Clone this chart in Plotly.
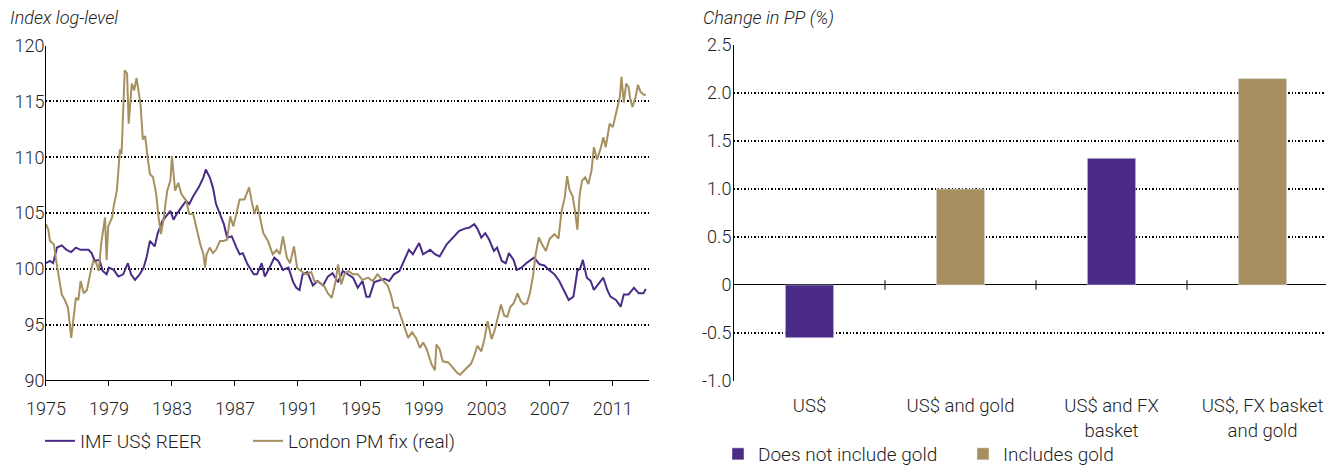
import plotly.graph_objects as go

# Left panel: index log-levels
reer_year = [1975.0, 1975.25, 1975.45, 1975.7, 1976.0, 1976.3, 1976.6, 1976.9, 1977.2, 1977.7,
             1977.9, 1978.1, 1978.4, 1978.6, 1978.85, 1979.0, 1979.3, 1979.6, 1979.9, 1980.2,
             1980.4, 1980.65, 1980.95, 1981.2, 1981.4, 1981.6, 1981.9, 1982.1, 1982.4, 1982.6,
             1982.9, 1983.1, 1983.3, 1983.6, 1983.9, 1984.1, 1984.35, 1984.7, 1985.0, 1985.15,
             1985.4, 1985.6, 1985.8, 1986.05, 1986.3, 1986.5, 1986.8, 1987.1, 1987.3, 1987.5,
             1987.8, 1988.2, 1988.4, 1988.7, 1988.9, 1989.2, 1989.5, 1989.75, 1990.05, 1990.4,
             1990.7, 1990.9, 1991.1, 1991.3, 1991.6, 1991.95, 1992.25, 1992.6, 1992.9, 1993.2,
             1993.55, 1993.85, 1994.2, 1994.5, 1994.8, 1995.1, 1995.35, 1995.55, 1995.85, 1996.2,
             1996.5, 1996.8, 1997.1, 1997.45, 1997.75, 1998.05, 1998.3, 1998.7, 1998.95, 1999.4,
             1999.7, 2000.0, 2000.45, 2000.85, 2001.25, 2001.6, 2001.9, 2002.2, 2002.4, 2002.65,
             2002.9, 2003.15, 2003.45, 2003.65, 2003.95, 2004.2, 2004.4, 2004.7, 2004.9, 2005.2,
             2005.5, 2005.8, 2006.0, 2006.35, 2006.65, 2006.95, 2007.3, 2007.6, 2007.9, 2008.2,
             2008.5, 2008.75, 2008.95, 2009.1, 2009.35, 2009.6, 2009.8, 2010.1, 2010.4, 2010.65,
             2010.85, 2011.2, 2011.5, 2011.7, 2012.0, 2012.35, 2012.65, 2012.95, 2013.1]
reer_val = [100.5, 100.7, 100.5, 101.9, 102.1, 101.7, 101.5, 101.9, 101.7, 101.7,
            101.4, 100.7, 100.8, 99.8, 99.5, 100.1, 99.9, 99.3, 99.5, 100.5,
            99.5, 99.0, 99.5, 100.1, 101.1, 102.5, 102.0, 103.2, 104.3, 104.7,
            105.2, 104.4, 104.9, 105.5, 106.1, 105.8, 106.5, 107.3, 108.2, 108.9,
            108.2, 107.3, 105.8, 104.9, 104.0, 102.8, 102.9, 101.9, 101.3, 101.4,
            100.4, 99.5, 99.5, 100.5, 99.3, 100.1, 101.0, 100.7, 99.9, 100.1,
            98.8, 98.3, 98.1, 99.5, 99.7, 98.5, 98.9, 98.5, 99.3, 99.6,
            98.8, 99.8, 99.5, 99.2, 98.3, 98.9, 97.5, 97.5, 98.8, 99.0,
            99.1, 98.9, 99.5, 99.8, 100.7, 101.7, 101.3, 102.3, 101.3, 101.7,
            101.3, 101.1, 102.2, 102.8, 103.4, 103.6, 103.7, 104.0, 103.6, 102.8,
            103.2, 102.6, 101.6, 101.9, 100.7, 100.5, 101.4, 100.8, 99.9, 100.1,
            100.5, 100.8, 101.0, 100.4, 100.3, 99.9, 99.5, 98.9, 98.1, 97.2,
            97.5, 99.8, 100.1, 100.8, 99.2, 98.9, 98.1, 98.6, 99.2, 98.1,
            97.5, 97.2, 96.6, 97.7, 97.7, 98.3, 97.8, 97.8, 98.2]

gold_year = [1975.0, 1975.15, 1975.25, 1975.5, 1975.65, 1975.8, 1976.0, 1976.2, 1976.4, 1976.6,
             1976.75, 1976.9, 1977.05, 1977.2, 1977.4, 1977.6, 1977.8, 1978.0, 1978.2, 1978.35,
             1978.5, 1978.75, 1978.85, 1978.95, 1979.2, 1979.3, 1979.5, 1979.7, 1979.8, 1980.0,
             1980.15, 1980.25, 1980.45, 1980.6, 1980.75, 1981.0, 1981.15, 1981.3, 1981.45, 1981.6,
             1981.8, 1982.0, 1982.15, 1982.3, 1982.45, 1982.7, 1982.9, 1983.0, 1983.2, 1983.4,
             1983.6, 1983.9, 1984.1, 1984.35, 1984.55, 1984.8, 1985.0, 1985.1, 1985.2, 1985.4,
             1985.6, 1985.8, 1986.05, 1986.25, 1986.5, 1986.7, 1986.9, 1987.1, 1987.3, 1987.6,
             1987.9, 1988.1, 1988.25, 1988.4, 1988.55, 1988.8, 1989.1, 1989.4, 1989.65, 1989.85,
             1990.05, 1990.3, 1990.5, 1990.75, 1990.95, 1991.2, 1991.5, 1991.85, 1992.05, 1992.35,
             1992.65, 1992.9, 1993.15, 1993.4, 1993.55, 1993.75, 1993.95, 1994.2, 1994.5, 1994.8,
             1995.1, 1995.45, 1995.75, 1996.05, 1996.4, 1996.7, 1996.9, 1997.1, 1997.35, 1997.55,
             1997.75, 1998.0, 1998.25, 1998.5, 1998.75, 1998.95, 1999.15, 1999.5, 1999.7, 1999.8,
             2000.0, 2000.2, 2000.55, 2000.85, 2001.1, 2001.3, 2001.6, 2001.8, 2002.0, 2002.2,
             2002.4, 2002.65, 2002.85, 2003.05, 2003.3, 2003.5, 2003.7, 2003.9, 2004.1, 2004.3,
             2004.5, 2004.7, 2004.95, 2005.15, 2005.35, 2005.55, 2005.75, 2005.95, 2006.1, 2006.3,
             2006.5, 2006.75, 2007.0, 2007.3, 2007.55, 2007.75, 2007.95, 2008.1, 2008.25, 2008.45,
             2008.6, 2008.75, 2008.9, 2009.05, 2009.25, 2009.45, 2009.65, 2009.8, 2010.0, 2010.25,
             2010.4, 2010.55, 2010.8, 2011.0, 2011.15, 2011.3, 2011.45, 2011.55, 2011.7, 2011.85,
             2012.0, 2012.1, 2012.25, 2012.45, 2012.6, 2012.75, 2012.95, 2013.1]
gold_val = [104.0, 103.5, 102.5, 102.2, 100.7, 99.5, 97.7, 97.2, 96.5, 93.8,
            95.4, 97.4, 97.2, 98.9, 97.8, 98.1, 99.5, 100.7, 100.5, 99.8,
            102.2, 104.6, 100.8, 103.8, 104.6, 105.6, 107.0, 110.7, 110.3, 117.8,
            117.5, 113.0, 116.6, 116.0, 117.1, 114.8, 111.6, 111.9, 110.0, 108.5,
            108.2, 106.7, 104.6, 103.1, 104.3, 107.0, 107.9, 110.1, 107.0, 107.7,
            106.7, 106.1, 104.9, 104.9, 103.7, 102.2, 101.3, 100.1, 101.3, 101.9,
            101.4, 101.7, 102.5, 102.5, 102.6, 104.7, 103.8, 104.9, 106.2, 106.2,
            107.3, 105.8, 104.9, 105.7, 104.9, 103.2, 102.5, 101.3, 101.7, 101.3,
            102.9, 101.0, 100.5, 102.0, 100.1, 99.8, 99.5, 99.7, 98.9, 98.8,
            98.5, 97.8, 97.4, 98.9, 100.4, 98.6, 99.5, 99.8, 99.5, 99.5,
            99.0, 99.2, 98.9, 99.5, 99.0, 98.5, 97.7, 96.5, 96.5, 95.7,
            95.0, 93.8, 94.3, 93.8, 92.9, 93.4, 92.9, 91.4, 90.9, 93.2,
            92.8, 91.7, 91.6, 91.1, 90.7, 90.5, 90.9, 91.2, 91.5, 92.2,
            93.1, 92.6, 93.7, 95.3, 93.7, 94.5, 95.6, 96.8, 95.8, 95.7,
            96.6, 96.9, 97.8, 97.1, 96.8, 96.9, 97.9, 99.5, 101.3, 102.8,
            102.2, 101.6, 102.7, 103.1, 102.7, 105.2, 106.4, 108.3, 107.1, 106.5,
            105.2, 103.5, 106.7, 107.9, 108.2, 107.6, 108.8, 110.9, 109.8, 110.9,
            111.8, 110.9, 113.0, 112.7, 113.6, 114.6, 115.4, 117.2, 114.9, 116.6,
            116.3, 115.3, 114.5, 115.4, 116.5, 115.9, 115.6, 115.6]

year_ticks = [1975, 1979, 1983, 1987, 1991, 1995, 1999, 2003, 2007, 2011]
level_ticks = [90, 95, 100, 105, 110, 115, 120]

# Right panel: change in purchasing power
categories = ["US$", "US$ and gold", "US$ and FX<br>basket", "US$, FX basket<br>and gold"]
no_gold = [-0.55, None, 1.32, None]
with_gold = [None, 1.0, None, 2.15]
pp_ticks = [-1.0, -0.5, 0, 0.5, 1.0, 1.5, 2.0, 2.5]
pp_labels = ["-1.0", "-0.5", "0", "0.5", "1.0", "1.5", "2.0", "2.5"]

PURPLE = "#4a2c87"
GOLD = "#a69060"
FONT = "Roboto"
TXT = "#1e1e1e"
DOTS = "1.5px,1.9px"

fig = go.Figure()
fig.add_trace(go.Scatter(x=reer_year, y=reer_val, mode="lines", name="IMF US$ REER",
                         line=dict(color=PURPLE, width=2), legend="legend"))
fig.add_trace(go.Scatter(x=gold_year, y=gold_val, mode="lines", name="London PM fix (real)",
                         line=dict(color=GOLD, width=2), legend="legend"))

fig.add_trace(go.Bar(x=categories, y=no_gold, name="Does not include gold", marker_color=PURPLE,
                     width=0.32, xaxis="x2", yaxis="y2", legend="legend2"))
fig.add_trace(go.Bar(x=categories, y=with_gold, name="Includes gold", marker_color=GOLD,
                     width=0.32, xaxis="x2", yaxis="y2", legend="legend2"))

# small separators on the zero line between categories
for i in range(len(categories) - 1):
    fig.add_shape(type="line", xref="x2", yref="y2", x0=i + 0.5, x1=i + 0.5, y0=-0.05, y1=0.05,
                  line=dict(color="black", width=1))

# sized so figure + the page's 8px body margin fits the window exactly
fig.update_layout(
    width=1318, height=458,
    margin=dict(l=0, r=0, t=0, b=0, autoexpand=False),
    paper_bgcolor="white", plot_bgcolor="white",
    font=dict(family=FONT, color=TXT, size=18, weight=300),
    barmode="overlay",
    showlegend=True,
    xaxis=dict(domain=[0.02883, 0.48634], range=[1975, 2013.3], tickvals=year_ticks,
               showgrid=False, zeroline=False, showline=True, linecolor="black", linewidth=1,
               ticks="outside", ticklen=5, tickcolor="black", tickfont=dict(size=18, weight=300),
               ticklabelstandoff=7, automargin=False),
    yaxis=dict(domain=[0.1871, 0.9177], range=[90, 120], tickvals=level_ticks,
               showgrid=True, gridcolor="black", griddash=DOTS, gridwidth=1.5,
               zeroline=False, showline=True, linecolor="black", linewidth=1,
               ticks="", tickfont=dict(size=18, weight=300), ticklabelstandoff=-3,
               automargin=False),
    xaxis2=dict(domain=[0.55083, 1.0], range=[-0.5, 3.4205], anchor="y2", showgrid=False,
                showline=False, ticks="", tickfont=dict(size=18.5, weight=300),
                ticklabelstandoff=12, automargin=False),
    yaxis2=dict(domain=[0.1856, 0.9192], range=[-1.0, 2.5], anchor="x2", tickvals=pp_ticks,
                ticktext=pp_labels, showgrid=True, gridcolor="black", griddash=DOTS,
                gridwidth=1.5, zeroline=True, zerolinecolor="black", zerolinewidth=1.3,
                showline=True, linecolor="black", linewidth=1, ticks="",
                tickfont=dict(size=18, weight=300), ticklabelstandoff=-2, automargin=False),
    legend=dict(orientation="h", x=0.02428, y=0.0546, xanchor="left", yanchor="middle",
                entrywidth=163, entrywidthmode="pixels", font=dict(size=19, weight=300),
                bgcolor="rgba(0,0,0,0)", itemwidth=30),
    legend2=dict(orientation="h", x=0.5387, y=0.0262, xanchor="left", yanchor="middle",
                 entrywidth=200, entrywidthmode="pixels", font=dict(size=19, weight=300),
                 bgcolor="rgba(0,0,0,0)"),
    annotations=[
        dict(text="<i>Index log-level</i>", xref="paper", yref="paper", x=0.0, y=0.9782,
             xanchor="left", yanchor="middle", showarrow=False, font=dict(size=18, weight=300)),
        dict(text="<i>Change in PP (%)</i>", xref="paper", yref="paper", x=0.5258, y=0.9782,
             xanchor="left", yanchor="middle", showarrow=False, font=dict(size=18, weight=300)),
    ],
)

fig.write_html("out.html")
